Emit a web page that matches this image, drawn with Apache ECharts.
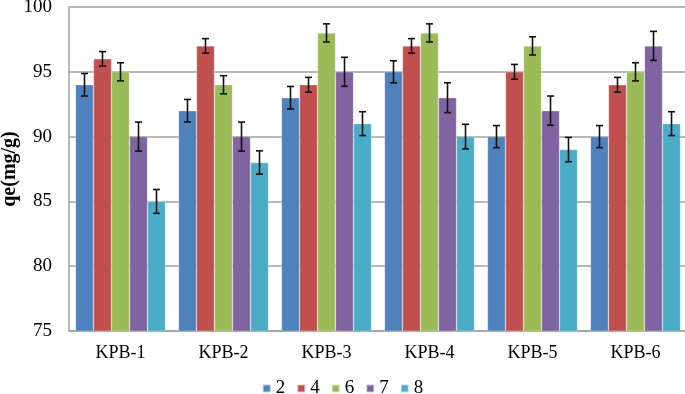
<!DOCTYPE html>
<html>
<head>
<meta charset="utf-8">
<script src="https://cdn.jsdelivr.net/npm/echarts@6/dist/echarts.min.js"></script>
<style>
  html, body { margin: 0; padding: 0; background: #fff; }
  #chart { width: 685px; height: 394px; }
</style>
</head>
<body>
<div id="chart"></div>
<script>
const categories = ['KPB-1', 'KPB-2', 'KPB-3', 'KPB-4', 'KPB-5', 'KPB-6']
const seriesNames = ['2', '4', '6', '7', '8']
const values2 = [94, 92, 93, 95, 90, 90]
const values4 = [96, 97, 94, 97, 95, 94]
const values6 = [95, 94, 98, 98, 97, 95]
const values7 = [90, 90, 95, 93, 92, 97]
const values8 = [85, 88, 91, 90, 89, 91]
const errors2 = [0.87, 0.87, 0.87, 0.85, 0.85, 0.85]
const errors4 = [0.56, 0.56, 0.57, 0.56, 0.57, 0.57]
const errors6 = [0.7, 0.7, 0.7, 0.7, 0.7, 0.7]
const errors7 = [1.12, 1.12, 1.12, 1.15, 1.13, 1.12]
const errors8 = [0.92, 0.9, 0.92, 0.95, 0.94, 0.92]
const yTicks = { min: 75, max: 100, interval: 5 }

const colors = ['#4F81BD', '#C0504D', '#9BBB59', '#8064A2', '#4BACC6']
const allValues = [values2, values4, values6, values7, values8]
const allErrors = [errors2, errors4, errors6, errors7, errors8]
const catGap = 0.126
const font = '"Liberation Serif", "Times New Roman", serif'

const chart = echarts.init(document.getElementById('chart'))

const barSeries = seriesNames.map((name, i) => ({
  name,
  type: 'bar',
  data: allValues[i],
  barGap: '0%',
  barCategoryGap: (catGap * 100) + '%',
  itemStyle: { color: colors[i], borderColor: 'rgba(255,255,255,0.6)', borderWidth: 0.5 },
  z: 2,
}))

// error bars drawn next to each bar
const errData = []
allValues.forEach((vals, s) => {
  vals.forEach((v, c) => errData.push([c, v, allErrors[s][c], s]))
})

const errSeries = {
  type: 'custom',
  data: errData,
  z: 5,
  silent: true,
  renderItem(params, api) {
    const c = api.value(0), v = api.value(1), e = api.value(2), s = api.value(3)
    const catW = api.size([1, 0])[0]
    const barW = catW * (1 - catGap) / seriesNames.length
    const center = api.coord([c, v])
    const x = center[0] + (s - (seriesNames.length - 1) / 2) * barW
    const top = api.coord([c, v + e])[1]
    const bot = api.coord([c, v - e])[1]
    const cap = 3.5
    const style = { stroke: '#111', lineWidth: 1.6 }
    return {
      type: 'group',
      children: [
        { type: 'line', shape: { x1: x, y1: top, x2: x, y2: bot }, style },
        { type: 'line', shape: { x1: x - cap, y1: top, x2: x + cap, y2: top }, style },
        { type: 'line', shape: { x1: x - cap, y1: bot, x2: x + cap, y2: bot }, style },
      ],
    }
  },
}

chart.setOption({
  animation: false,
  textStyle: { fontFamily: font },
  grid: { left: 69, right: -2, top: 7, bottom: 63, outerBoundsMode: 'none', containLabel: false },
  legend: {
    data: seriesNames,
    top: 379,
    left: 'center',
    padding: 0,
    itemWidth: 8,
    itemHeight: 8,
    itemGap: 11,
    icon: 'rect',
    textStyle: { fontFamily: font, fontSize: 19, color: '#000' },
  },
  xAxis: {
    type: 'category',
    data: categories,
    axisTick: { show: false },
    axisLine: { lineStyle: { color: '#a0a0a0', width: 1.5 } },
    axisLabel: { fontFamily: font, fontSize: 18, color: '#000', margin: 13 },
  },
  yAxis: {
    type: 'value',
    min: yTicks.min,
    max: yTicks.max,
    interval: yTicks.interval,
    name: 'qe(mg/g)',
    nameLocation: 'middle',
    nameGap: 49,
    nameMoveOverlap: false,
    nameTextStyle: { fontFamily: font, fontSize: 20, fontWeight: 'bold', color: '#000' },
    axisLine: { show: true, lineStyle: { color: '#a0a0a0', width: 1.5 } },
    axisTick: { show: false },
    splitLine: { lineStyle: { color: '#a0a0a0', width: 1.5 } },
    axisLabel: { fontFamily: font, fontSize: 19, color: '#000', margin: 17 },
  },
  series: [...barSeries, errSeries],
})
</script>
</body>
</html>
